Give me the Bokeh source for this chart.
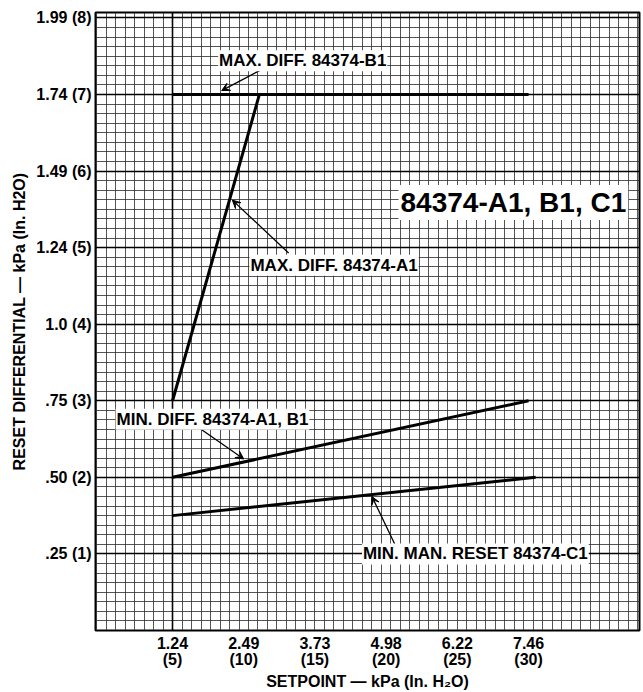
import numpy as np
from bokeh.plotting import figure
from bokeh.models import (FixedTicker, Grid, Label, Arrow, VeeHead, Range1d)
from bokeh.embed import file_html
from bokeh.resources import INLINE

# ---- data (inches H2O) ----
x_ticks = [5, 10, 15, 20, 25, 30]
x_tick_labels = ["1.24\n(5)", "2.49\n(10)", "3.73\n(15)", "4.98\n(20)", "6.22\n(25)", "7.46\n(30)"]
y_ticks = [1, 2, 3, 4, 5, 6, 7, 8]
y_tick_labels = [".25 (1)", ".50 (2)", ".75 (3)", "1.0 (4)", "1.24 (5)", "1.49 (6)", "1.74 (7)", "1.99 (8)"]

max_b1_x = [5, 30]
max_b1_y = [7, 7]
max_a1_x = [5, 11.1]
max_a1_y = [3, 7]
min_a1b1_x = [5, 30]
min_a1b1_y = [2, 3]
min_c1_x = [5, 30.5]
min_c1_y = [1.5, 2]

# annotations: text, label anchor (x, y), arrow tail (x, y), arrow tip (x, y)
ann_texts = ["MAX. DIFF. 84374-B1", "MAX. DIFF. 84374-A1", "MIN. DIFF. 84374-A1, B1", "MIN. MAN. RESET 84374-C1"]
ann_label_xy = [(8.2, 7.44), (10.4, 4.77), (1.0, 2.76), (18.3, 1.0)]
ann_tail_xy = [(11.3, 7.33), (13.15, 4.93), (6.9, 2.64), (20.6, 1.13)]
ann_tip_xy = [(8.45, 7.05), (9.2, 5.62), (10.0, 2.24), (19.0, 1.75)]
title_text = "84374-A1, B1, C1"
title_xy = (20.87, 5.59)

FONT = "Liberation Sans"

p = figure(width=641, height=692, output_backend="svg", toolbar_location=None,
           x_range=Range1d(-0.41, 37.79), y_range=Range1d(0, 8.07),
           min_border_left=95, min_border_right=2, min_border_top=12, min_border_bottom=60,
           background_fill_color="white", border_fill_color="white")
p.outline_line_color = "black"
p.outline_line_width = 2

# grid (graph paper)
p.xgrid.ticker = FixedTicker(ticks=list(5 + np.arange(-8, 50) * (2.0 / 3.0)))
p.ygrid.ticker = FixedTicker(ticks=list(np.arange(0, 65) / 8.0))
for g in (p.xgrid, p.ygrid):
    g.grid_line_color = "#2a2a2a"
    g.grid_line_alpha = 0.8
    g.grid_line_width = 1
p.add_layout(Grid(dimension=1, ticker=FixedTicker(ticks=y_ticks), grid_line_color="black", grid_line_width=1.6))
p.add_layout(Grid(dimension=0, ticker=FixedTicker(ticks=[5]), grid_line_color="black", grid_line_width=1.6))

# axes
p.xaxis.ticker = FixedTicker(ticks=x_ticks)
p.xaxis.major_label_overrides = dict(zip(x_ticks, x_tick_labels))
p.yaxis.ticker = FixedTicker(ticks=y_ticks)
p.yaxis.major_label_overrides = dict(zip(y_ticks, y_tick_labels))
for ax in (p.xaxis, p.yaxis):
    ax.axis_line_color = None
    ax.major_tick_line_color = None
    ax.minor_tick_line_color = None
    ax.major_tick_out = 0
    ax.major_tick_in = 0
    ax.minor_tick_out = 0
    ax.minor_tick_in = 0
    ax.major_label_text_font = FONT
    ax.major_label_text_font_style = "bold"
    ax.major_label_text_font_size = "16px"
    ax.major_label_text_color = "black"
    ax.axis_label_text_font = FONT
    ax.axis_label_text_font_style = "bold"
    ax.axis_label_text_font_size = "16px"
    ax.axis_label_text_color = "black"
p.xaxis.major_label_text_line_height = 0.95
p.xaxis.major_label_standoff = 4
p.yaxis.major_label_standoff = 4
p.xaxis.axis_label = "SETPOINT \u2014 kPa (In. H\u2082O)"
p.yaxis.axis_label = "RESET DIFFERENTIAL \u2014 kPa (In. H2O)"
p.xaxis.axis_label_standoff = 2
p.yaxis.axis_label_standoff = 5

# curves
for xs, ys in ((max_b1_x, max_b1_y), (max_a1_x, max_a1_y), (min_a1b1_x, min_a1b1_y), (min_c1_x, min_c1_y)):
    p.line(xs, ys, line_color="black", line_width=3)

# annotations
for t, (lx, ly), (tx, ty), (hx, hy) in zip(ann_texts, ann_label_xy, ann_tail_xy, ann_tip_xy):
    p.add_layout(Arrow(x_start=tx, y_start=ty, x_end=hx, y_end=hy, line_color="black", line_width=1.3,
                       end=VeeHead(size=8, fill_color="black", line_color="black")))
    p.add_layout(Label(x=lx, y=ly, text=t, text_font=FONT, text_font_style="bold", text_font_size="17px",
                       text_baseline="middle", text_align="left", text_color="black",
                       background_fill_color="white", padding=1))

p.add_layout(Label(x=title_xy[0], y=title_xy[1], text=title_text, text_font=FONT, text_font_style="bold",
                   text_font_size="28px", text_baseline="middle", text_align="left", text_color="black",
                   background_fill_color="white", padding=2))

open("out.html", "w").write(file_html(p, INLINE))
